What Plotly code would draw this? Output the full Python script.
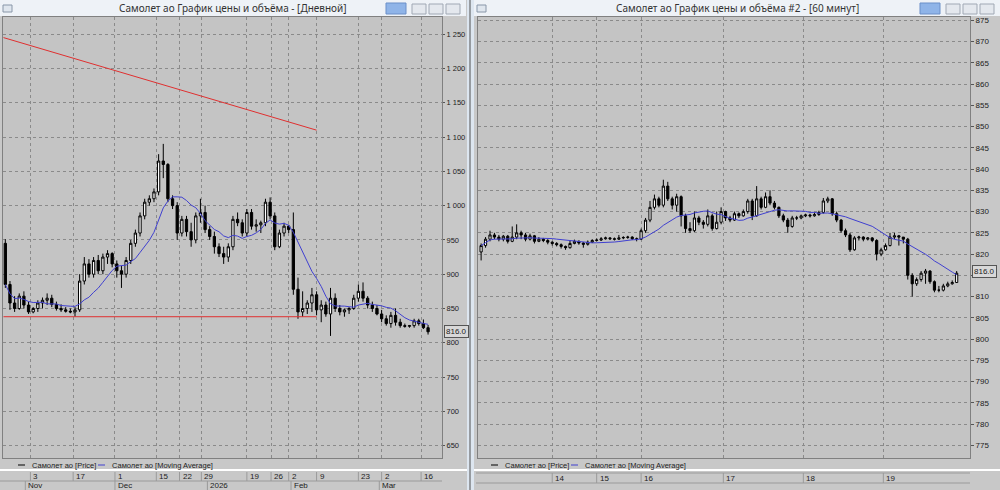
import plotly.graph_objects as go
import pandas as pd

# ---------------- daily panel data ----------------
d_open0 = 945
d_close = [885,858,850,868,855,845,850,858,862,865,
           856,850,848,846,845,848,890,915,900,920,
           905,925,930,915,905,900,920,945,960,985,
           1005,1010,1020,1065,1060,1010,1000,960,980,962,
           950,985,990,965,955,940,930,925,940,980,
           975,960,990,970,972,975,1005,985,940,960,
           970,965,878,845,850,858,870,848,855,842,
           865,850,845,848,850,865,875,865,855,850,
           842,835,828,840,830,825,824,825,832,828,
           822,816]
d_high = [951,890,868,872,875,860,852,862,866,872,
          870,860,856,852,850,852,900,925,922,925,
          928,930,935,932,920,912,925,950,965,990,
          1010,1015,1025,1075,1090,1062,1015,1005,985,985,
          975,990,1010,1000,970,962,945,940,945,985,
          990,980,995,995,980,978,1010,1012,990,965,
          975,972,990,895,875,862,880,875,862,860,
          880,872,855,850,852,870,885,888,868,860,
          855,848,840,845,850,835,828,826,835,835,
          834,826]
d_low = [880,848,845,848,850,842,843,845,850,855,
         852,847,845,844,843,838,845,885,895,895,
         900,900,915,910,895,880,895,915,940,955,
         980,1000,1005,1015,1040,1005,995,950,955,955,
         940,945,975,960,950,930,925,915,918,935,
         970,955,955,965,962,960,970,980,935,938,
         955,960,870,835,838,842,845,840,830,838,
         810,845,840,838,842,848,860,860,850,845,
         840,830,825,822,825,822,822,822,822,825,
         820,812]
d_tick_pos = [5.4,14.6,23.6,32.5,37.5,42.2,52,57.2,61,67,76,81,89.5]
d_tick_lbl = ["3","17","1","15","22","29","19","26","2","9","23","2","16"]
d_month_pos = [4.3,23.6,43.5,61.5,80.5]
d_month_lbl = ["Nov","Dec","2026","Feb","Mar"]
d_yticks = [650,700,750,800,850,900,950,1000,1050,1100,1150,1200,1250]
d_yticklbl = ["650","700","750","800","850","900","950","1 000","1 050","1 100","1 150","1 200","1 250"]
trend_x = [-0.4, 67.0]
trend_y = [1245, 1110]
support_y = 838
support_x = [-0.4, 67.0]

# ---------------- hourly panel data ----------------
h_open0 = 820.5
h_close = [822,823.5,824.5,824,823.5,824.2,823,824,825,824.5,
           823.5,824.3,823,823.5,823.2,822.8,822.5,822.2,821.8,821.5,
           822.5,823,822.6,822.3,822.8,823.2,823.3,823.6,823.8,823.6,
           823.5,823.8,823.9,824,823.6,823.5,
           825.5,828,831,833,831.5,836,833,831.5,833.5,829,826,825.5,828.5,827.5,827,
           829,826,827.5,830,828.5,828,829.5,829,830,
           832.5,829,833,831,833.5,832,831,
           829,828,826.5,828.5,828.5,829,829.2,829,829.3,829.8,
           832.5,833,829.5,828,
           825.5,824.5,821,823.8,824,823.5,823.8,823.2,
           820,821,822,824,824.3,824,823.5,
           815,813,814,815.5,816,813.5,
           811.5,811.5,812.5,813,813.3,815.5]
h_high = [822.5,824,825.5,825,824.5,824.5,824.5,826.5,827,825.5,
          825,824.8,824.5,824,823.8,823.5,823,822.8,822.5,822,
          823.3,823.4,823.2,822.8,823.2,823.5,823.7,824,824.1,824,
          823.9,824.5,824.2,824.3,824.2,823.9,
          826,828.5,832.5,834,833.5,837.5,837,833.5,834.2,833.8,829.5,827.5,830,829,828,
          830.5,829.5,830,831,830.2,829,830,829.8,830.5,
          833,833,836,833.5,834.5,835,832.5,
          831.2,829.5,828.5,829,829,829.3,829.5,829.5,829.8,830.2,
          833.2,833.5,833.2,830,
          828.2,826,825,824.2,824.3,824.2,824,824,
          823.5,821.5,822.5,825,825,824.5,824,
          823.8,815.5,814.5,816,816.5,816.2,
          813.8,812.5,813,813.5,813.8,816]
h_low = [818.5,821.5,823,823.5,823,823,822.5,822.8,823.5,823.5,
         823,823.2,822.5,822.8,822.8,822.3,822,821.8,821.3,821,
         821.3,822.3,822.2,821.5,822,822.6,823,823.1,823.4,823.3,
         823.2,823.3,823.5,823.6,823.3,823,
         823.3,825,827.5,830.5,831,831,832.5,830.5,830,826.5,825,825,825.2,826.8,826,
         826.5,825.5,825.8,827,827.8,827.5,827.8,828.5,828.8,
         829.5,828,828.8,830.5,830.8,831.5,830.5,
         828.5,827.5,825,826.2,828,828.2,828.7,828.6,828.8,829,
         829.5,832,829,827.5,
         825,824,820.5,820.8,823.2,823,823.2,822.8,
         818.5,819.5,820.8,821.8,823.5,822,822.5,
         814,810,812.5,813.5,813,813,
         811,811,811.2,812.2,812.8,813.2]
h_tick_pos = [16, 26, 36, 54.5, 72.5, 90.5]
h_tick_lbl = ["14","15","16","17","18","19"]
h_yticks = list(range(775, 880, 5))

last_price = 816.0

d_open = [d_open0] + d_close[:-1]
h_open = [h_open0] + h_close[:-1]
dx = list(range(len(d_close)))
hx = list(range(len(h_close)))
d_ma = pd.Series(d_close).rolling(9, min_periods=1).mean().tolist()
h_ma = pd.Series(h_close).rolling(14, min_periods=1).mean().tolist()

W, H = 1000, 490
def px(x): return x / W
def py(y): return 1 - y / H

PLOT_BG = "#c4c4c4"
GRID = "#8a8a8a"
FONT = "Liberation Sans"

fig = go.Figure()
candle_kw = dict(increasing=dict(line=dict(color="black", width=1), fillcolor="white"),
                 decreasing=dict(line=dict(color="black", width=1), fillcolor="black"),
                 whiskerwidth=0, showlegend=False, hoverinfo="skip")
fig.add_trace(go.Candlestick(x=dx, open=d_open, high=d_high, low=d_low, close=d_close,
                             xaxis="x", yaxis="y", **candle_kw))
fig.add_trace(go.Scatter(x=dx, y=d_ma, mode="lines", line=dict(color="#4040d0", width=1),
                         xaxis="x", yaxis="y", showlegend=False, hoverinfo="skip"))
fig.add_trace(go.Scatter(x=trend_x, y=trend_y, mode="lines", line=dict(color="#e03030", width=1),
                         xaxis="x", yaxis="y", showlegend=False, hoverinfo="skip"))
fig.add_trace(go.Scatter(x=support_x, y=[support_y, support_y], mode="lines",
                         line=dict(color="#e03030", width=1), xaxis="x", yaxis="y", showlegend=False,
                         hoverinfo="skip"))
fig.add_trace(go.Candlestick(x=hx, open=h_open, high=h_high, low=h_low, close=h_close,
                             xaxis="x2", yaxis="y2", **candle_kw))
fig.add_trace(go.Scatter(x=hx, y=h_ma, mode="lines", line=dict(color="#4040d0", width=1),
                         xaxis="x2", yaxis="y2", showlegend=False, hoverinfo="skip"))

ax_common = dict(showline=True, linecolor="#808080", mirror=True, zeroline=False,
                 showgrid=True, gridcolor=GRID, griddash="dot", gridwidth=1)
fig.update_layout(
    width=W, height=H, margin=dict(l=0, r=0, t=0, b=0, autoexpand=False),
    paper_bgcolor="#c8c8c8", plot_bgcolor=PLOT_BG, showlegend=False,
    font=dict(family=FONT, size=9, color="#222"),
    xaxis=dict(domain=[px(3), px(442)], range=[-0.5, 94.0], tickvals=d_tick_pos,
               showticklabels=False, rangeslider=dict(visible=False), anchor="y", **ax_common),
    yaxis=dict(domain=[py(458), py(17)], range=[632, 1275], side="right", anchor="x",
               tickvals=d_yticks, ticktext=d_yticklbl, ticks="outside", ticklen=2,
               tickcolor="#555", tickfont=dict(size=7.5, color="#222"), **ax_common),
    xaxis2=dict(domain=[px(478), px(970)], range=[-0.7, 110.0], tickvals=h_tick_pos,
                showticklabels=False, rangeslider=dict(visible=False), anchor="y2", **ax_common),
    yaxis2=dict(domain=[py(458), py(17)], range=[772.0, 875.8], side="right", anchor="x2",
                tickvals=h_yticks, ticktext=[str(v) for v in h_yticks], ticks="outside", ticklen=3,
                tickcolor="#555", tickfont=dict(size=8, color="#222"), **ax_common),
)

shapes = []
ann = []
for x0, x1, title in [(0, 466, "Самолет ао График цены и объёма - [Дневной]"),
                      (474, 1000, "Самолет ао График цены и объёма #2 - [60 минут]")]:
    shapes.append(dict(type="rect", xref="paper", yref="paper", x0=px(x0), x1=px(x1),
                       y0=py(16), y1=1, fillcolor="#eef2f7", line=dict(width=0), layer="below"))
    ann.append(dict(text=title, x=px((x0 + x1) / 2), y=py(8), xref="paper", yref="paper",
                    xanchor="center", yanchor="middle",
                    showarrow=False, font=dict(family="Noto Sans", size=10, color="#333")))
    bx = x1 - 80
    shapes.append(dict(type="rect", xref="paper", yref="paper", x0=px(bx), x1=px(bx + 20),
                       y0=py(14), y1=py(3), fillcolor="#8fb4e8", line=dict(color="#6a8fc8", width=1)))
    for k in range(3):
        b = x1 - 54 + k * 17
        shapes.append(dict(type="rect", xref="paper", yref="paper", x0=px(b), x1=px(b + 14),
                           y0=py(14), y1=py(4), fillcolor="#e4e8ee", line=dict(color="#a0a8b4", width=1)))
    shapes.append(dict(type="rect", xref="paper", yref="paper", x0=px(x0 + 3), x1=px(x0 + 12),
                       y0=py(12), y1=py(5), fillcolor="#dfe6ee", line=dict(color="#8896a8", width=1)))
shapes.append(dict(type="rect", xref="paper", yref="paper", x0=px(467), x1=px(474), y0=0, y1=1,
                   fillcolor="#dde6f0", line=dict(width=0)))
shapes.append(dict(type="line", xref="paper", yref="paper", x0=px(470), x1=px(470), y0=0, y1=1,
                   line=dict(color="#505050", width=1)))
for x0, x1 in [(0, 467), (474, 1000)]:
    shapes.append(dict(type="rect", xref="paper", yref="paper", x0=px(x0), x1=px(x1),
                       y0=py(471), y1=py(469), fillcolor="white", line=dict(width=0)))

for x0 in (10, 483):
    shapes.append(dict(type="line", xref="paper", yref="paper", x0=px(x0 + 8), x1=px(x0 + 15),
                       y0=py(465), y1=py(465), line=dict(color="black", width=1)))
    ann.append(dict(text="Самолет ао [Price]", x=px(x0 + 20), y=py(465), xref="paper", yref="paper",
                    xanchor="left", yanchor="middle", showarrow=False, font=dict(size=7.5)))
    shapes.append(dict(type="line", xref="paper", yref="paper", x0=px(x0 + 88), x1=px(x0 + 95),
                       y0=py(465), y1=py(465), line=dict(color="#4040d0", width=1)))
    ann.append(dict(text="Самолет ао [Moving Average]", x=px(x0 + 100), y=py(465), xref="paper",
                    yref="paper", xanchor="left", yanchor="middle", showarrow=False, font=dict(size=7.5)))

shapes.append(dict(type="line", xref="paper", yref="paper", x0=0, x1=px(442), y0=py(481), y1=py(481),
                   line=dict(color="#9a9a9a", width=1)))
for p, l in zip(d_tick_pos, d_tick_lbl):
    shapes.append(dict(type="line", xref="x", yref="paper", x0=p, x1=p, y0=py(481), y1=py(472),
                       line=dict(color="#9a9a9a", width=1)))
    ann.append(dict(text=l, x=p, y=py(476), xref="x", yref="paper", xanchor="left", yanchor="middle",
                    xshift=1, showarrow=False, font=dict(size=8)))
for p, l in zip(d_month_pos, d_month_lbl):
    shapes.append(dict(type="line", xref="x", yref="paper", x0=p, x1=p, y0=0, y1=py(481),
                       line=dict(color="#9a9a9a", width=1)))
    ann.append(dict(text=l, x=p, y=py(485.5), xref="x", yref="paper", xanchor="left", yanchor="middle",
                    xshift=1, showarrow=False, font=dict(size=8)))
shapes.append(dict(type="line", xref="paper", yref="paper", x0=px(476), x1=px(970), y0=py(473), y1=py(473),
                   line=dict(color="#9a9a9a", width=1)))
shapes.append(dict(type="line", xref="paper", yref="paper", x0=px(476), x1=px(970), y0=py(483), y1=py(483),
                   line=dict(color="#9a9a9a", width=1)))
for p, l in zip(h_tick_pos, h_tick_lbl):
    shapes.append(dict(type="line", xref="x2", yref="paper", x0=p, x1=p, y0=py(483), y1=py(473),
                       line=dict(color="#9a9a9a", width=1)))
    ann.append(dict(text=l, x=p, y=py(478), xref="x2", yref="paper", xanchor="left", yanchor="middle",
                    xshift=1, showarrow=False, font=dict(size=8)))

for xr, yr in [("x domain", "y"), ("x2 domain", "y2")]:
    ann.append(dict(text=f"{last_price:.1f}", x=1, y=last_price, xref=xr, yref=yr, xanchor="left",
                    yanchor="middle", xshift=2, showarrow=False, bgcolor="#d8d8d8", bordercolor="#555",
                    borderwidth=1, borderpad=1, font=dict(size=8)))

fig.update_layout(shapes=shapes, annotations=ann)
fig.write_html("out.html", config={"displayModeBar": False},
               post_script="document.body.style.margin='0';document.body.style.overflow='hidden';")
